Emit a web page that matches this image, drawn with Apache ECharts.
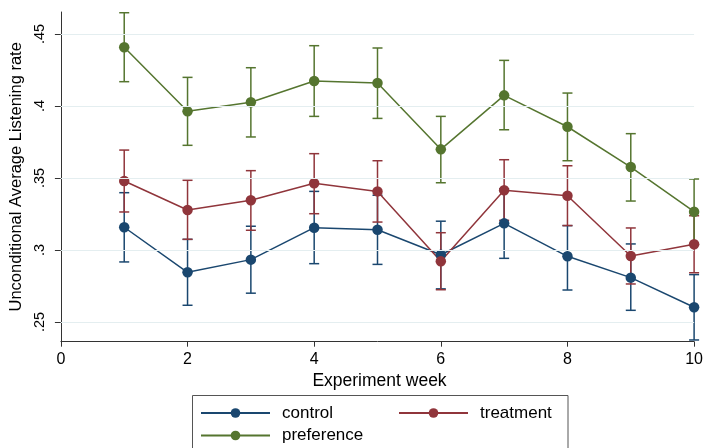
<!DOCTYPE html>
<html>
<head>
<meta charset="utf-8">
<script src="https://cdn.jsdelivr.net/npm/echarts@6/dist/echarts.min.js"></script>
<style>html,body{margin:0;padding:0;background:#fff;}#c{width:706px;height:448px;}</style>
</head>
<body>
<div id="c"></div>
<script>
const weeks = [1, 2, 3, 4, 5, 6, 7, 8, 9, 10];
const xTicks = [0, 2, 4, 6, 8, 10];
const yTicks = [0.25, 0.30, 0.35, 0.40, 0.45];

const control    = [0.3158, 0.2845, 0.2933, 0.3155, 0.3141, 0.2967, 0.3185, 0.2956, 0.2808, 0.2602];
const controlLo  = [0.2917, 0.2616, 0.2700, 0.2905, 0.2900, 0.2730, 0.2942, 0.2722, 0.2581, 0.2375];
const controlHi  = [0.3398, 0.3074, 0.3165, 0.3407, 0.3380, 0.3200, 0.3425, 0.3169, 0.3042, 0.2829];

const treatment   = [0.3479, 0.3278, 0.3345, 0.3463, 0.3407, 0.2922, 0.3415, 0.3377, 0.2958, 0.3040];
const treatmentLo = [0.3264, 0.3074, 0.3137, 0.3252, 0.3194, 0.2724, 0.3206, 0.3170, 0.2764, 0.2842];
const treatmentHi = [0.3694, 0.3484, 0.3551, 0.3669, 0.3620, 0.3120, 0.3627, 0.3585, 0.3153, 0.3238];

const preference   = [0.4408, 0.3963, 0.4026, 0.4174, 0.4160, 0.3699, 0.4074, 0.3856, 0.3576, 0.3266];
const preferenceLo = [0.4169, 0.3727, 0.3785, 0.3928, 0.3914, 0.3467, 0.3835, 0.3620, 0.3340, 0.3036];
const preferenceHi = [0.4648, 0.4199, 0.4266, 0.4419, 0.4403, 0.3928, 0.4317, 0.4090, 0.3808, 0.3493];

const FONT = "'Liberation Sans', Arial, sans-serif";
const C_NAVY = '#1a476f', C_MAROON = '#90353b', C_GREEN = '#55752f';

function errSeries(name, lo, hi, color) {
  return {
    type: 'custom', name: name, silent: true, z: 2, clip: false,
    data: weeks.map((w, i) => [w, lo[i], hi[i]]),
    encode: { x: 0, y: [1, 2] },
    renderItem: function (params, api) {
      const x = api.value(0);
      const p1 = api.coord([x, api.value(1)]);
      const p2 = api.coord([x, api.value(2)]);
      const hw = 5;
      const st = { stroke: color, lineWidth: 1.5 };
      return { type: 'group', children: [
        { type: 'line', shape: { x1: p1[0], y1: p1[1], x2: p2[0], y2: p2[1] }, style: st },
        { type: 'line', shape: { x1: p1[0] - hw, y1: p1[1], x2: p1[0] + hw, y2: p1[1] }, style: st },
        { type: 'line', shape: { x1: p2[0] - hw, y1: p2[1], x2: p2[0] + hw, y2: p2[1] }, style: st }
      ]};
    }
  };
}
function lineSeries(name, vals, color) {
  return {
    type: 'line', name: name, z: 3, clip: false,
    data: weeks.map((w, i) => [w, vals[i]]),
    symbol: 'circle', symbolSize: 10.5, showSymbol: true,
    itemStyle: { color: color, borderWidth: 0 },
    lineStyle: { color: color, width: 1.5 }
  };
}
function legendAt(name, left, top) {
  return {
    data: [name], left: left, top: top, padding: 0, orient: 'horizontal',
    itemWidth: 69, itemHeight: 12, selectedMode: false,
    textStyle: { fontFamily: FONT, fontSize: 17, color: '#000', padding: [0, 0, 0, 7] }
  };
}

const chart = echarts.init(document.getElementById('c'), null, { renderer: 'canvas' });
chart.setOption({
  animation: false,
  backgroundColor: '#fff',
  grid: { left: 60, right: 5.3, top: 12, bottom: 106.3, containLabel: false },
  xAxis: {
    type: 'value', min: 0, max: 10, interval: 2,
    name: 'Experiment week', nameLocation: 'middle', nameGap: 14,
    nameTextStyle: { fontFamily: FONT, fontSize: 17.5, color: '#000', padding: [0, 0, 0, 4] },
    axisLine: { onZero: false, lineStyle: { color: '#333', width: 1 } },
    axisTick: { length: 5, lineStyle: { color: '#333' } },
    axisLabel: { fontFamily: FONT, fontSize: 16, color: '#000', margin: 10,
      customValues: xTicks },
    splitLine: { show: false }
  },
  yAxis: {
    type: 'value', min: 0.2363, max: 0.4653,
    name: 'Unconditional Average Listening rate', nameLocation: 'middle', nameGap: 31, nameRotate: 90,
    nameTextStyle: { fontFamily: FONT, fontSize: 16.5, color: '#000' },
    axisLine: { show: true, lineStyle: { color: '#333', width: 1 } },
    axisTick: { show: true, length: 6, lineStyle: { color: '#333' }, customValues: yTicks },
    axisLabel: { fontFamily: FONT, fontSize: 14.5, color: '#000', rotate: 90, margin: 13,
      customValues: yTicks,
      formatter: v => String(Math.round(v * 100) / 100).replace(/^0/, '') },
    splitLine: { show: false }
  },
  legend: [
    legendAt('control', 200, 404.5),
    legendAt('treatment', 398, 404.5),
    legendAt('preference', 200, 427)
  ],
  graphic: [{
    type: 'rect', z: -1, silent: true,
    shape: { x: 192.5, y: 395.5, width: 375.5, height: 70 },
    style: { fill: '#fff', stroke: '#555', lineWidth: 1 }
  }],
  series: [
    {
      type: 'line', name: 'grid', data: [], silent: true, z: 1,
      markLine: {
        silent: true, symbol: 'none', animation: false,
        label: { show: false },
        lineStyle: { color: '#e4eef0', width: 1.2, type: 'solid' },
        data: yTicks.map(v => ({ yAxis: v }))
      }
    },
    errSeries('control ci', controlLo, controlHi, C_NAVY),
    lineSeries('control', control, C_NAVY),
    errSeries('treatment ci', treatmentLo, treatmentHi, C_MAROON),
    lineSeries('treatment', treatment, C_MAROON),
    errSeries('preference ci', preferenceLo, preferenceHi, C_GREEN),
    lineSeries('preference', preference, C_GREEN)
  ]
});
</script>
</body>
</html>
